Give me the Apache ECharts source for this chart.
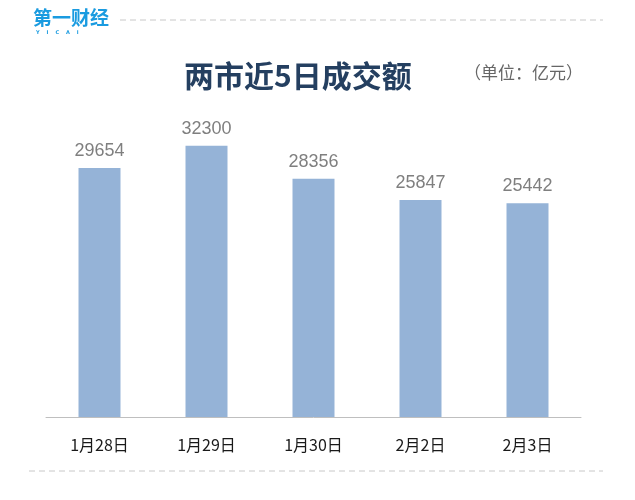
<!DOCTYPE html>
<html>
<head>
<meta charset="utf-8">
<script src="https://cdn.jsdelivr.net/npm/echarts@6/dist/echarts.min.js"></script>
<style>
html,body{margin:0;padding:0;background:#fff;}
#chart{width:635px;height:500px;}
</style>
</head>
<body>
<div id="chart"></div>
<script>
const categories = ['1月28日', '1月29日', '1月30日', '2月2日', '2月3日'];
const turnover = [29654, 32300, 28356, 25847, 25442];
const titleText = '两市近5日成交额';
const unitText = '（单位：亿元）';

const chart = echarts.init(document.getElementById('chart'));
chart.setOption({
  animation: false,
  backgroundColor: '#ffffff',
  grid: { left: 46, right: 54, top: 123, bottom: 83 },
  xAxis: {
    type: 'category',
    data: categories,
    axisLine: { lineStyle: { color: '#bfbfbf', width: 1 } },
    axisTick: { show: false },
    axisLabel: {
      color: '#1a1a1a',
      fontSize: 16,
      fontFamily: '"Noto Sans CJK SC", sans-serif',
      margin: 20
    }
  },
  yAxis: {
    type: 'value',
    min: 0,
    max: 35000,
    show: false,
    splitLine: { show: false }
  },
  series: [{
    type: 'bar',
    data: turnover,
    barWidth: 42,
    itemStyle: { color: '#95b3d7' },
    label: {
      show: true,
      position: 'top',
      distance: 8,
      color: '#7f7f7f',
      fontSize: 18,
      fontFamily: '"Liberation Sans", Arial, sans-serif'
    }
  }],
  graphic: [
    {
      type: 'text', left: 184, top: 61,
      style: { text: titleText, fill: '#243f60', font: 'bold 30px "Noto Sans CJK SC", sans-serif' }
    },
    {
      type: 'text', left: 464, top: 64,
      style: { text: unitText, fill: '#666666', font: '17px "Noto Sans CJK SC", sans-serif' }
    },
    {
      type: 'text', left: 33, top: 8,
      style: { text: '第一财经', fill: '#1a9be0', font: 'bold 19px "Noto Sans CJK SC", sans-serif' }
    },
    {
      type: 'text', left: 36, top: 30,
      style: { text: 'Y    I    C    A    I', fill: '#1a9be0', font: 'bold 5px "DejaVu Sans", sans-serif' }
    },
    {
      type: 'line',
      shape: { x1: 120, y1: 20, x2: 603, y2: 20 },
      style: { stroke: '#c8c8c8', lineWidth: 1, lineDash: [6, 4] }
    },
    {
      type: 'line',
      shape: { x1: 29, y1: 471, x2: 603, y2: 471 },
      style: { stroke: '#c8c8c8', lineWidth: 1, lineDash: [6, 4] }
    }
  ]
});
</script>
</body>
</html>
